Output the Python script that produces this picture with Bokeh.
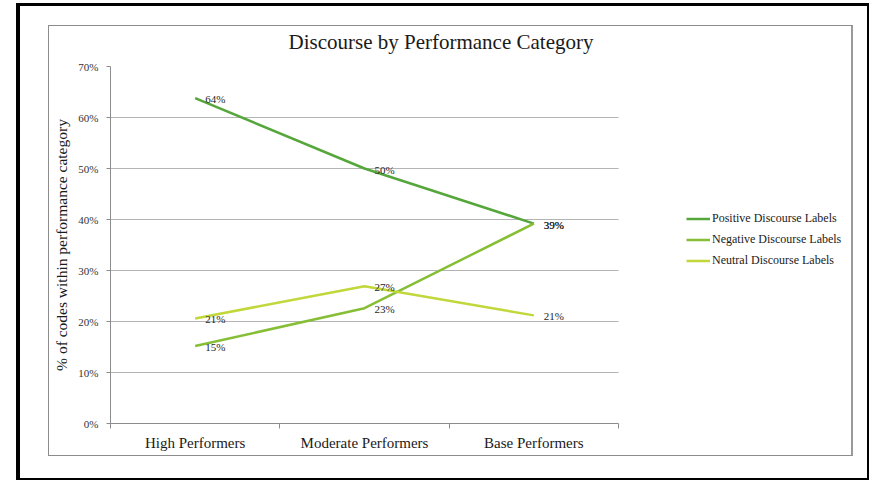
import numpy as np
from bokeh.plotting import figure
from bokeh.models import (Range1d, FixedTicker, Legend, LegendItem, Title,
                          ColumnDataSource, InlineStyleSheet)
from bokeh.core.properties import value
from bokeh.embed import file_html
from bokeh.resources import INLINE

# ---- data ----
categories = ["High Performers", "Moderate Performers", "Base Performers"]
series_names = ["Positive Discourse Labels", "Negative Discourse Labels", "Neutral Discourse Labels"]
positive = [63.8, 50.0, 39.2]
negative = [15.2, 22.6, 39.2]
neutral = [20.6, 26.9, 21.2]
y_ticks = [0, 10, 20, 30, 40, 50, 60, 70]
y_tick_labels = ["0%", "10%", "20%", "30%", "40%", "50%", "60%", "70%"]
title_text = "Discourse by Performance Category"
y_label = "% of codes within performance category"

colors = ["#55a63b", "#86be35", "#c1d73a"]
FONT = "Liberation Serif"

W, H = 869, 482
# frame spans x 110..852; data region (the categories) occupies 110..618
plot_px, frame_px = 508, 742
n = len(categories)
p = figure(width=W, height=H, output_backend="svg", toolbar_location=None,
           x_range=Range1d(0, n * frame_px / plot_px), y_range=Range1d(0, 70),
           min_border_left=110, min_border_right=W - 110 - frame_px,
           min_border_top=66, min_border_bottom=59)
p.outline_line_color = None
p.background_fill_color = "white"
p.border_fill_color = "white"

centers = list(np.arange(n) + 0.5)
bounds = list(np.arange(n + 1))

# x axis
xa = p.xaxis[0]
xa.bounds = (0, n)
xa.ticker = FixedTicker(ticks=centers, minor_ticks=bounds)
xa.major_label_overrides = {c: cat for c, cat in zip(centers, categories)}
xa.major_tick_out = 0
xa.major_tick_in = 0
xa.minor_tick_out = 5
xa.minor_tick_in = 0
xa.minor_tick_line_color = "#8c8c8c"
xa.axis_line_color = "#8c8c8c"
xa.major_label_text_font = FONT
xa.major_label_text_font_size = "15px"
xa.major_label_text_color = "#1a1a1a"
xa.major_label_standoff = 6

# y axis
ya = p.yaxis[0]
ya.ticker = FixedTicker(ticks=y_ticks)
ya.major_label_overrides = {t: l for t, l in zip(y_ticks, y_tick_labels)}
ya.major_tick_out = 4
ya.major_tick_in = 0
ya.minor_tick_line_color = None
ya.major_tick_line_color = "#8c8c8c"
ya.axis_line_color = "#8c8c8c"
ya.major_label_text_font = FONT
ya.major_label_text_font_size = "11px"
ya.major_label_text_color = "#333333"
ya.major_label_standoff = 8
ya.axis_label = y_label
ya.axis_label_text_font = FONT
ya.axis_label_text_font_size = "15.5px"
ya.axis_label_text_font_style = "normal"
ya.axis_label_text_color = "#1a1a1a"
ya.axis_label_standoff = 5

p.xgrid.grid_line_color = None
p.ygrid.ticker = FixedTicker(ticks=y_ticks[1:])
p.ygrid.cross_bounds = (0, n)
p.ygrid.grid_line_color = "#b4b4b4"
p.ygrid.grid_line_width = 1

# lines + labels
items = []
for name, vals, col in zip(series_names, [positive, negative, neutral], colors):
    src = ColumnDataSource(dict(x=centers, y=vals, t=[f"{round(v)}%" for v in vals]))
    r = p.line("x", "y", source=src, line_color=col, line_width=2.5)
    items.append(LegendItem(label=name, renderers=[r]))
    p.text("x", "y", text="t", source=src, x_offset=10, y_offset=1,
           text_baseline="middle", text_align="left",
           text_font=value(FONT), text_font_size="11px", text_color="#262626")

legend = Legend(items=items, location=(576, 152), padding=0, spacing=0,
                label_height=21, glyph_height=21, glyph_width=24,
                label_standoff=2, border_line_color=None,
                background_fill_alpha=0, label_text_font=FONT,
                label_text_font_size="12px", label_text_color="#1a1a1a")
p.add_layout(legend, "center")

# title
p.title = Title(text=title_text, align="left", offset=178, standoff=26,
                text_font=FONT, text_font_size="21px", text_font_style="normal",
                text_color="#1a1a1a")

# decorative frames (grey chart-area box, black outer border)
css = """
:host::before { content: ""; position: absolute; left: 48px; top: 25px;
  width: 805px; height: 431px; box-sizing: border-box;
  border: 1px solid #8c8c8c; border-right: 2px solid #9a9a9a;
  pointer-events: none; z-index: 5; }
:host::after { content: ""; position: absolute; left: 16px; top: 3px;
  width: 853px; height: 477px; box-sizing: border-box;
  border-left: 4px solid #000; border-top: 3px solid #000;
  border-right: 2px solid #000; border-bottom: 2px solid #000;
  pointer-events: none; z-index: 5; }
"""
p.stylesheets = [InlineStyleSheet(css=css)]

open("out.html", "w").write(file_html(p, INLINE))
